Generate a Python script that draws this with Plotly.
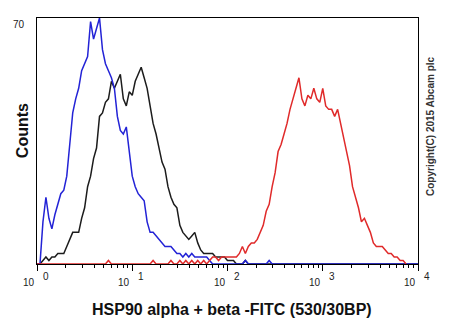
import numpy as np
import plotly.graph_objects as go

# Histogram bins: 128 channels spanning 4 log decades (32 channels per decade)
CHANNELS_PER_DECADE = 32

# Event counts per channel
isotype_counts = [  # blue
    0, 0, 12, 19, 13, 10, 14, 17, 20, 21,
    25, 34, 43, 47, 50, 55, 57, 59, 69, 64,
    67, 70, 61, 57, 55, 53, 50, 42, 38, 37,
    39, 31, 25, 22, 20, 19, 18, 12, 9, 9,
    8, 7, 6, 5, 5, 5, 4, 3, 3, 2,
    3, 2, 3, 2, 2, 2, 2, 2, 1, 0,
    0, 0, 0, 0, 0, 0, 0, 0, 0, 0,
    1, 0, 0, 0, 0, 0, 0, 0, 1, 0,
    0, 0, 0, 0, 0, 0, 0, 0, 0, 0,
    0, 0, 0, 0, 0, 0, 0, 0, 0, 0,
    0, 0, 0, 0, 0, 0, 0, 0, 0, 0,
    0, 0, 0, 0, 0, 0, 0, 0, 0, 0,
    0, 0, 0, 0, 0, 0, 0, 0, 0,
]

unlabelled_counts = [  # black
    0, 0, 1, 2, 1, 2, 2, 3, 3, 3,
    5, 7, 9, 9, 9, 13, 16, 22, 25, 30,
    33, 42, 43, 46, 47, 52, 50, 52, 54, 47,
    45, 49, 48, 52, 54, 56, 53, 50, 45, 40,
    37, 33, 29, 27, 22, 19, 17, 16, 11, 9,
    8, 7, 8, 9, 6, 4, 3, 3, 3, 3,
    2, 2, 2, 2, 1, 1, 1, 0, 0, 0,
    1, 0, 0, 0, 0, 0, 0, 0, 0, 0,
    0, 0, 0, 0, 0, 0, 0, 0, 0, 0,
    0, 0, 0, 0, 0, 0, 0, 0, 0, 0,
    0, 0, 0, 0, 0, 0, 0, 0, 0, 0,
    0, 0, 0, 0, 0, 0, 0, 0, 0, 0,
    0, 0, 0, 0, 0, 0, 0, 0, 0,
]

hsp90_counts = [  # red
    0, 0, 0, 0, 0, 0, 0, 0, 0, 0,
    0, 0, 0, 0, 0, 0, 0, 0, 0, 0,
    0, 0, 0, 0, 1, 0, 0, 0, 0, 0,
    0, 0, 0, 0, 0, 0, 0, 0, 0, 1,
    0, 0, 0, 0, 0, 1, 0, 0, 1, 0,
    1, 0, 1, 0, 1, 0, 1, 0, 1, 2,
    2, 1, 2, 2, 2, 2, 2, 2, 3, 5,
    3, 5, 6, 6, 7, 9, 11, 15, 17, 22,
    26, 32, 34, 37, 40, 44, 47, 50, 53, 47,
    45, 48, 47, 50, 47, 46, 50, 45, 44, 44,
    42, 44, 40, 37, 32, 28, 22, 19, 16, 12,
    13, 11, 9, 6, 5, 5, 5, 4, 3, 3,
    2, 2, 1, 1, 0,
]

x_tick_exponents = [0, 1, 2, 3, 4]
y_tick_values = [70]

x_title = "HSP90 alpha + beta -FITC (530/30BP)"
y_title = "Counts"
copyright_text = "Copyright(C) 2015 Abcam plc"

FONT = "Arial, 'Liberation Sans', sans-serif"


def channel_intensity(counts):
    return 10 ** (np.arange(len(counts)) / CHANNELS_PER_DECADE)


fig = go.Figure()
series = [
    (unlabelled_counts, "#1c1c1c"),
    (isotype_counts, "#2323d6"),
    (hsp90_counts, "#e02a2a"),
]
for counts, color in series:
    fig.add_trace(go.Scatter(
        x=channel_intensity(counts), y=counts, mode="lines",
        line=dict(color=color, width=1.5, shape="linear"),
        hoverinfo="skip", showlegend=False,
    ))

minor_ticks = [m * 10 ** d for d in range(4) for m in range(2, 10)]

fig.update_layout(
    width=450, height=330,
    margin=dict(l=37, r=32, t=18, b=66),
    paper_bgcolor="white", plot_bgcolor="white",
    font=dict(family=FONT, color="#222222"),
    xaxis=dict(
        type="log", range=[0, 4],
        showgrid=False, zeroline=False,
        showline=True, linecolor="black", linewidth=1, mirror=True,
        ticks="outside", ticklen=6, tickcolor="black", tickwidth=1,
        tickvals=[10 ** e for e in x_tick_exponents],
        showticklabels=False,
        minor=dict(ticks="outside", ticklen=3, tickcolor="black",
                   tickwidth=1, tickvals=minor_ticks, showgrid=False),
    ),
    yaxis=dict(
        range=[0, 70],
        showgrid=False, zeroline=False,
        showline=True, linecolor="black", linewidth=1, mirror=True,
        ticks="", showticklabels=False,
    ),
)

annotations = []
# Decade labels: "10" with the exponent raised to the right of the tick
for e in x_tick_exponents:
    annotations.append(dict(
        x=e, xref="x", y=0, yref="paper", text="10", showarrow=False,
        xanchor="right", yanchor="middle", xshift=0, yshift=-18,
        font=dict(size=10, color="#222222", family=FONT),
    ))
    annotations.append(dict(
        x=e, xref="x", y=0, yref="paper", text=str(e), showarrow=False,
        xanchor="left", yanchor="middle", xshift=4, yshift=-12,
        font=dict(size=10, color="#222222", family=FONT),
    ))
for v in y_tick_values:
    annotations.append(dict(
        x=0, xref="paper", y=v, yref="y", text=str(v), showarrow=False,
        xanchor="right", yanchor="middle", xshift=-10, yshift=-6,
        font=dict(size=10, color="#222222", family=FONT),
    ))
annotations.append(dict(
    x=0.512, xref="paper", y=0, yref="paper", text=f"<b>{x_title}</b>",
    showarrow=False, xanchor="center", yanchor="middle", yshift=-45,
    font=dict(size=16, color="#111111", family=FONT),
))
annotations.append(dict(
    x=0, xref="paper", y=0.54, yref="paper", text=f"<b>{y_title}</b>",
    showarrow=False, xanchor="center", yanchor="middle", xshift=-15,
    textangle=-90, font=dict(size=16, color="#111111", family=FONT),
))
annotations.append(dict(
    x=1, xref="paper", y=0.561, yref="paper", text=f"<b>{copyright_text}</b>",
    showarrow=False, xanchor="center", yanchor="middle", xshift=13,
    textangle=-90, font=dict(size=10, color="#333333", family=FONT),
))
fig.update_layout(annotations=annotations)

fig.write_html("out.html")
